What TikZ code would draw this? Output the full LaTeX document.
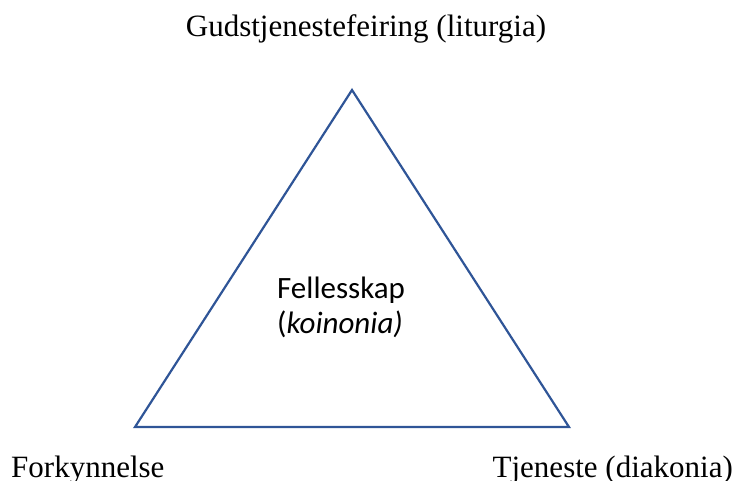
\documentclass[tikz,border=0pt]{standalone}
\usepackage{fontspec}
\setmainfont{Liberation Serif}
\newfontfamily\calib{Carlito}
\definecolor{triblue}{HTML}{2F5597}
\begin{document}
\begin{tikzpicture}[x=1pt,y=-1pt,
  lbl/.style={font=\fontsize{31}{36}\selectfont, inner sep=0pt, anchor=base},
  ctr/.style={font=\calib\fontsize{31}{36}\selectfont, inner sep=0pt, anchor=base west}]
\useasboundingbox (0,0) rectangle (746,481);
\coordinate (A) at (352,90);
\coordinate (B) at (135,427);
\coordinate (C) at (569,427);
\draw[triblue, line width=2.2pt, line join=miter] (A) -- (B) -- (C) -- cycle;
\node[lbl] (top) at (366,37) {Gudstjenestefeiring (liturgia)};
\node[lbl, anchor=base west] (left) at (11,477) {Forkynnelse};
\node[lbl, anchor=base east] (right) at (733,477) {Tjeneste (diakonia)};
\node[ctr] (mid1) at (277,298) {Fellesskap};
\node[ctr] (mid2) at (277,333) {(\textit{koinonia)}};
\end{tikzpicture}
\end{document}
